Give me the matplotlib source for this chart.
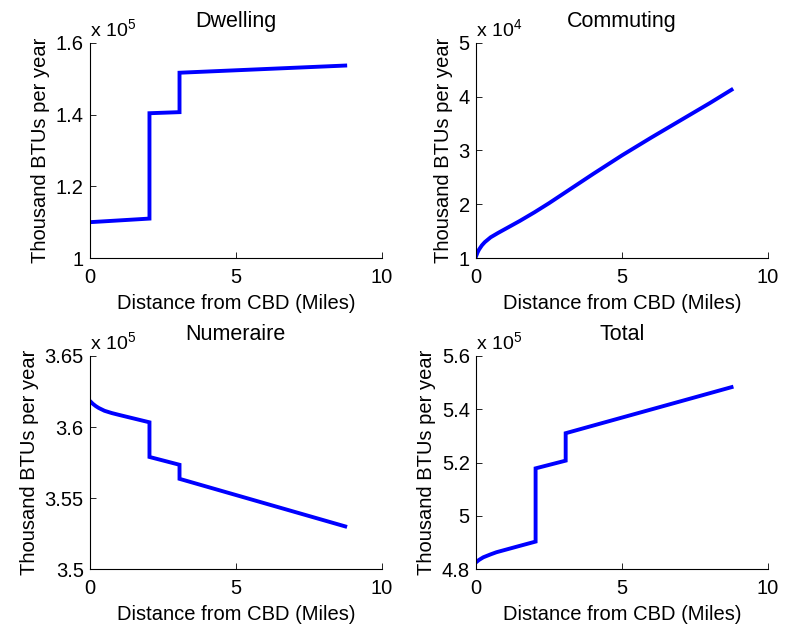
import numpy as np
import matplotlib.pyplot as plt
from matplotlib.ticker import FuncFormatter

plt.rcParams['font.family'] = ['Liberation Sans', 'DejaVu Sans']
plt.rcParams['mathtext.fontset'] = 'custom'
plt.rcParams['mathtext.rm'] = 'Liberation Sans'
plt.rcParams['mathtext.it'] = 'Liberation Sans:italic'
plt.rcParams['mathtext.bf'] = 'Liberation Sans:bold'

# Dwelling energy (thousand BTUs per year)
dist_dwell = [0, 2.04, 2.04, 3.07, 3.07, 8.75]
dwelling = [1.100e5, 1.110e5, 1.404e5, 1.407e5, 1.517e5, 1.537e5]

# Commuting energy
dist_comm = [0, 0.05, 0.1, 0.2, 0.3, 0.5, 0.75, 1, 1.5, 2, 2.5, 3, 3.5, 4,
             5, 6, 7, 8, 8.75]
commuting = [1.03e4, 1.10e4, 1.155e4, 1.235e4, 1.295e4, 1.385e4, 1.465e4,
             1.54e4, 1.69e4, 1.85e4, 2.02e4, 2.20e4, 2.38e4, 2.56e4,
             2.91e4, 3.24e4, 3.56e4, 3.88e4, 4.13e4]

# Numeraire energy
dist_num = [0, 0.1, 0.2, 0.3, 0.5, 0.75, 1, 1.4, 2.04, 2.04, 3.07, 3.07, 8.75]
numeraire = [3.6183e5, 3.6163e5, 3.6147e5, 3.6134e5, 3.6114e5, 3.6098e5,
             3.6085e5, 3.6065e5, 3.6033e5, 3.5789e5, 3.5734e5, 3.5635e5,
             3.5300e5]

# Total energy
dist_tot = [0, 0.1, 0.25, 0.5, 0.7, 1, 1.4, 2.04, 2.04, 3.07, 3.07, 8.75]
total = [4.825e5, 4.834e5, 4.844e5, 4.855e5, 4.863e5, 4.872e5, 4.884e5,
         4.903e5, 5.178e5, 5.207e5, 5.310e5, 5.483e5]

panels = [
    ("Dwelling", dist_dwell, dwelling, 1e5, 5, [1.0, 1.2, 1.4, 1.6]),
    ("Commuting", dist_comm, commuting, 1e4, 4, [1, 2, 3, 4, 5]),
    ("Numeraire", dist_num, numeraire, 1e5, 5, [3.5, 3.55, 3.6, 3.65]),
    ("Total", dist_tot, total, 1e5, 5, [4.8, 5.0, 5.2, 5.4, 5.6]),
]

positions = [
    [0.1146, 0.5924, 0.3716, 0.3397],
    [0.6064, 0.5924, 0.3720, 0.3397],
    [0.1146, 0.1011, 0.3716, 0.3365],
    [0.6064, 0.1011, 0.3720, 0.3365],
]

fig = plt.figure(figsize=(7.85, 6.33), dpi=100)

for (title, xs, ys, scale, expo, yticks), pos in zip(panels, positions):
    ax = fig.add_axes(pos)
    ax.plot(xs, ys, color=(0, 0, 1), linewidth=2.8, solid_joinstyle='miter')
    ax.set_xlim(0, 10)
    ax.set_ylim(yticks[0] * scale, yticks[-1] * scale)
    ax.set_xticks([0, 5, 10])
    ax.set_yticks([t * scale for t in yticks])
    ax.yaxis.set_major_formatter(FuncFormatter(lambda v, p, s=scale: "%g" % round(v / s, 4)))
    ax.spines['top'].set_visible(False)
    ax.spines['right'].set_visible(False)
    ax.tick_params(direction='in', length=4, width=0.6, labelsize=14.5)
    ax.tick_params(axis='x', pad=7)
    ax.tick_params(axis='y', pad=4.5)
    ax.set_title(title, fontsize=15.5, pad=11.7)
    ax.set_xlabel("Distance from CBD (Miles)", fontsize=14.5, labelpad=5.5)
    ax.set_ylabel("Thousand BTUs per year", fontsize=14.5, labelpad=4)
    ax.text(0, 1.033, r"x 10$^{%d}$" % expo, transform=ax.transAxes,
            fontsize=14, ha='left', va='baseline')

fig.savefig("out.png", dpi=100)
